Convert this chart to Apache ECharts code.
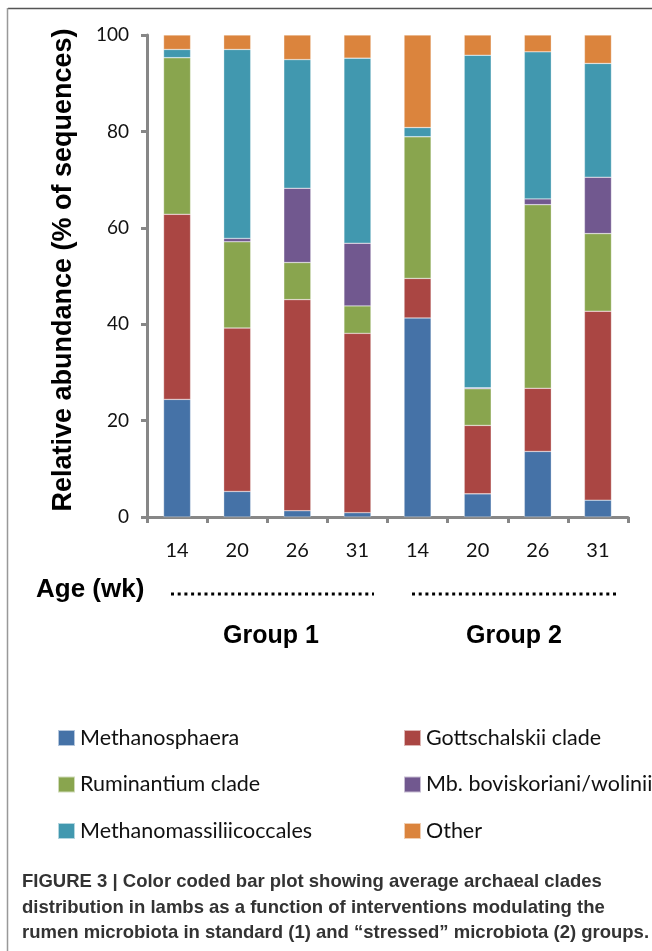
<!DOCTYPE html>
<html>
<head>
<meta charset="utf-8">
<script src="https://cdn.jsdelivr.net/npm/echarts@6.0.0/dist/echarts.min.js"></script>
<style>
    html, body { margin: 0; padding: 0; background: #fff; }
    #main { width: 652px; height: 951px; }
</style>
</head>
<body>
<div id="main"></div>
<script>
// ages per bar (group 1 then group 2)
var ageLabels = ['14', '20', '26', '31', '14', '20', '26', '31'];
var yTicks = [0, 20, 40, 60, 80, 100];

// % of sequences
var methanosphaera = [24.4, 5.3, 1.3, 0.9, 41.3, 4.8, 13.6, 3.5];
var gottschalskii = [38.4, 33.9, 43.8, 37.2, 8.2, 14.2, 13.1, 39.2];
var ruminantium = [32.5, 17.9, 7.7, 5.7, 29.4, 7.6, 38.1, 16.1];
var boviskoriani = [0, 0.7, 15.4, 13.0, 0, 0.2, 1.2, 11.7];
var massilii = [1.7, 39.2, 26.7, 38.4, 1.9, 69.0, 30.5, 23.6];
var other = [3.0, 3.0, 5.1, 4.8, 19.2, 4.2, 3.5, 5.9];

var clades = ['Methanosphaera', 'Gottschalskii clade', 'Ruminantium clade',
    'Mb. boviskoriani/wolinii', 'Methanomassiliicoccales', 'Other'];
var colors = ['#4572A7', '#AA4643', '#89A54E', '#71588F', '#4198AF', '#DB843D'];
var values = [methanosphaera, gottschalskii, ruminantium, boviskoriani, massilii, other];

var groupNames = ['Group 1', 'Group 2'];
var caption = [
    'FIGURE 3 | Color coded bar plot showing average archaeal clades',
    'distribution in lambs as a function of interventions modulating the',
    'rumen microbiota in standard (1) and \u201cstressed\u201d microbiota (2) groups.'
];

var myChart = echarts.init(document.getElementById('main'));

var series = [];
for (var i = 0; i < clades.length; i++) {
    series.push({
        name: clades[i],
        type: 'bar',
        stack: 'total',
        barWidth: 27,
        itemStyle: { color: colors[i], borderColor: 'rgba(255,255,255,0.6)', borderWidth: 0.5 },
        data: values[i]
    });
}

var axisGray = '#878787';
var labelFont = 'Lato, "Open Sans", sans-serif';
var boldFont = '"Liberation Sans", Arial, sans-serif';

var legendText = { fontFamily: labelFont, fontSize: 21.5, color: '#111' };

// caption + annotations drawn as graphic text
var graphics = [
    { type: 'line', shape: { x1: 8, y1: 8.5, x2: 652, y2: 8.5 }, style: { stroke: '#555', lineWidth: 1.5 } },
    { type: 'line', shape: { x1: 7.5, y1: 8, x2: 7.5, y2: 951 }, style: { stroke: '#999', lineWidth: 1.5 } },
    {
        type: 'text', x: 64, y: 270, rotation: Math.PI / 2,
        style: {
            text: 'Relative abundance (% of sequences)', fill: '#000',
            font: 'bold 27px ' + boldFont, textAlign: 'center', textVerticalAlign: 'middle'
        }
    },
    {
        type: 'text', x: 36, y: 590,
        style: { text: 'Age (wk)', fill: '#000', font: 'bold 26px ' + boldFont, textVerticalAlign: 'middle' }
    },
    { type: 'line', shape: { x1: 171, y1: 594, x2: 374, y2: 594 }, style: { stroke: '#000', lineWidth: 3, lineDash: [3, 3.7] } },
    { type: 'line', shape: { x1: 412, y1: 594, x2: 616, y2: 594 }, style: { stroke: '#000', lineWidth: 3, lineDash: [3, 3.7] } },
    {
        type: 'text', x: 271, y: 636,
        style: { text: groupNames[0], fill: '#000', font: 'bold 25px ' + boldFont, textAlign: 'center', textVerticalAlign: 'middle' }
    },
    {
        type: 'text', x: 514, y: 636,
        style: { text: groupNames[1], fill: '#000', font: 'bold 25px ' + boldFont, textAlign: 'center', textVerticalAlign: 'middle' }
    }
];
for (var k = 0; k < caption.length; k++) {
    graphics.push({
        type: 'text', x: 22, y: 882 + k * 25.5,
        style: { text: caption[k], fill: '#333', font: 'bold 18.5px ' + boldFont, textVerticalAlign: 'middle' }
    });
}

var option = {
    animation: false,
    backgroundColor: '#fff',
    grid: { left: 147, right: 24, top: 35, bottom: 434, containLabel: false },
    legend: [
        {
            orient: 'vertical', left: 52, top: 722,
            itemWidth: 17, itemHeight: 16, itemGap: 24.5, icon: 'rect',
            textStyle: legendText,
            data: [clades[0], clades[2], clades[4]]
        },
        {
            orient: 'vertical', left: 398, top: 722,
            itemWidth: 17, itemHeight: 16, itemGap: 24.5, icon: 'rect',
            textStyle: legendText,
            data: [clades[1], clades[3], clades[5]]
        }
    ],
    xAxis: {
        type: 'category',
        data: ageLabels,
        axisLine: { lineStyle: { color: axisGray, width: 3 } },
        axisTick: { show: true, length: 6, lineStyle: { color: axisGray, width: 3 } },
        axisLabel: { fontFamily: labelFont, fontSize: 20, color: '#111', margin: 24, interval: 0 }
    },
    yAxis: {
        type: 'value',
        min: yTicks[0],
        max: yTicks[yTicks.length - 1],
        interval: 20,
        splitLine: { show: false },
        axisLine: { show: true, lineStyle: { color: axisGray, width: 3 } },
        axisTick: { show: true, length: 6, lineStyle: { color: axisGray, width: 3 } },
        axisLabel: { fontFamily: labelFont, fontSize: 19, color: '#111', margin: 18 }
    },
    series: series,
    graphic: graphics
};

myChart.setOption(option);
</script>
</body>
</html>
